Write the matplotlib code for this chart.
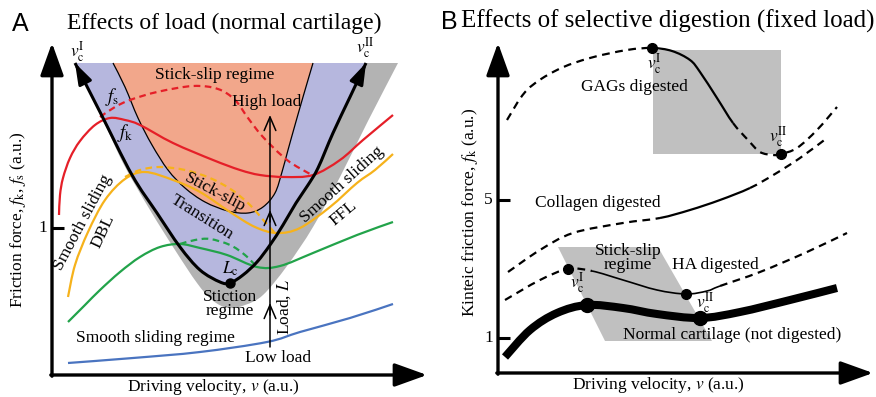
import numpy as np
import matplotlib.pyplot as plt
from matplotlib.path import Path
from matplotlib.patches import PathPatch, Polygon, Rectangle

plt.rcParams["font.family"] = ["Liberation Serif", "DejaVu Serif"]
plt.rcParams["mathtext.fontset"] = "stix"

# ---- panel A: load dependence (v, f in a.u.) ----
# outer (grey) boundary of the transition zone
grey_edge_v = [23, 48, 71, 98, 123, 145, 160, 176, 193, 211, 235, 261, 288, 316, 346]
grey_edge_f = [312, 262, 212, 165, 125, 92, 75, 67, 70, 80, 109, 148, 198, 254, 312]
# critical velocities v_c^I / v_c^II versus load (black U curve)
vc_v = [23, 48, 80, 105, 128, 148, 168, 178, 191, 205, 218, 231, 244, 256, 266, 281, 298, 314]
vc_f = [312, 263, 200, 162, 128, 105, 93, 92, 100, 113, 130, 150, 172, 190, 207, 242, 278, 312]
lc_point = (178, 92)
# stick-slip regime boundary
stick_v = [61, 73, 86, 100, 116, 133, 153, 176, 196, 211, 223, 230, 236, 243, 251, 261]
stick_f = [312, 288, 257, 230, 205, 187, 173, 164, 162, 168, 182, 203, 225, 250, 278, 312]

# high load
high_fk_v = [7, 8, 11, 18, 28, 43, 58, 73, 88, 121, 161, 188, 208, 233, 261, 288, 311, 341]
high_fk_f = [160, 180, 197, 217, 234, 250, 257, 255, 250, 232, 215, 205, 200, 198, 200, 215, 235, 260]
high_fs_v = [48, 63, 78, 105, 141, 166, 183, 196, 211, 235, 258]
high_fs_f = [258, 268, 275, 283, 289, 286, 275, 257, 238, 215, 201]
# intermediate load
mid_fk_v = [16, 23, 36, 53, 73, 93, 121, 148, 178, 203, 225, 248, 278, 305, 323, 341]
mid_fk_f = [78, 110, 143, 175, 196, 203, 195, 183, 163, 148, 142, 147, 168, 192, 205, 221]
mid_fs_v = [73, 88, 108, 133, 158, 180, 198, 213, 223]
mid_fs_f = [198, 205, 208, 205, 197, 185, 170, 153, 142]
# lower-intermediate load
low_fk_v = [16, 33, 48, 68, 88, 108, 128, 148, 175, 205, 228, 261, 305, 341]
low_fk_f = [53, 70, 85, 103, 118, 128, 131, 127, 120, 108, 109, 122, 140, 153]
low_fs_v = [128, 143, 158, 178, 193, 205]
low_fs_f = [131, 135, 136, 130, 120, 108]
# low load
lowest_fk_v = [16, 81, 148, 215, 248, 298, 341]
lowest_fk_f = [12, 17, 23, 33, 43, 57, 71]

load_v = 218
load_f = [28, 260]
load_marks = [72, 165]

# ---- panel B: selective digestion ----
gag_v = [9, 29, 59, 92, 129, 154, 174, 192, 202, 219, 235, 250, 262, 275, 283, 299, 319, 339]
gag_f = [253, 283, 303, 315, 323, 325, 322, 313, 301, 275, 250, 233, 221, 218, 219, 225, 243, 266]
gag_solid = (5, 10)
gag_crit = (5, 14)
gag_box = (155, 219, 128, 104)

col_v = [10, 42, 75, 125, 162, 192, 222, 252, 277, 302, 329]
col_f = [101, 123, 140, 150, 155, 163, 173, 185, 199, 215, 235]
col_solid = (4, 7)

ha_v = [7, 42, 70, 94, 125, 159, 188, 209, 222, 262, 309, 349]
ha_f = [73, 93, 104, 102, 93, 83, 79, 82, 87, 101, 121, 140]
ha_solid = (3, 8)
ha_crit = (2, 6)

norm_v = [7, 32, 59, 89, 125, 159, 202, 242, 292, 339]
norm_f = [16, 43, 60, 68, 65, 59, 55, 61, 73, 85]
norm_crit = (3, 6)
stick_zone_v = [60, 160, 214, 107]
stick_zone_f = [126, 126, 32, 32]

tick_a = [("1", 147)]
tick_b = [("5", 173), ("1", 35)]


def bezier(v, f):
    """Catmull-Rom through the control points, as cubic Bezier segments."""
    pts = np.column_stack([v, f]).astype(float)
    ext = np.vstack([pts[0], pts, pts[-1]])
    segs = []
    for i in range(len(pts) - 1):
        p0, p1, p2, p3 = ext[i], ext[i + 1], ext[i + 2], ext[i + 3]
        segs.append((p1 + (p2 - p0) / 6, p2 - (p3 - p1) / 6, p2))
    return pts, segs


def sub_path(v, f, i0=0, i1=None, close=False):
    pts, segs = bezier(v, f)
    i1 = len(pts) - 1 if i1 is None else i1
    verts, codes = [pts[i0]], [Path.MOVETO]
    for c1, c2, p in segs[i0:i1]:
        verts += [c1, c2, p]
        codes += [Path.CURVE4] * 3
    if close:
        verts.append(pts[i0])
        codes.append(Path.CLOSEPOLY)
    return Path(verts, codes)


def curve(ax, v, f, color="k", lw=1.5, ls="-", z=4, i0=0, i1=None):
    ax.add_patch(PathPatch(sub_path(v, f, i0, i1), fill=False, ec=color, lw=lw,
                           ls=ls, zorder=z, capstyle="butt", joinstyle="round"))


def split_curve(ax, v, f, solid, lw_solid, lw_dash, ls):
    a, b = solid
    if a > 0:
        curve(ax, v, f, lw=lw_dash, ls=ls, i0=0, i1=a)
    curve(ax, v, f, lw=lw_solid, i0=a, i1=b)
    if b < len(v) - 1:
        curve(ax, v, f, lw=lw_dash, ls=ls, i0=b)


def region(ax, v, f, color, z=1):
    ax.add_patch(PathPatch(sub_path(v, f, close=True), fc=color, ec="none", zorder=z))


def axes_arrows(ax, v_tip, f_tip):
    style = "-|>,head_length=1.0,head_width=0.36"
    kw = dict(arrowstyle=style, lw=2.4, color="k", shrinkA=0, shrinkB=0, mutation_scale=20)
    ax.annotate("", xy=(0, f_tip), xytext=(0, -1.2), arrowprops=kw, zorder=8)
    ax.annotate("", xy=(v_tip, 0), xytext=(-1.2, 0), arrowprops=kw, zorder=8)


fig = plt.figure(figsize=(8.76, 3.97), dpi=100)
ax_a = fig.add_axes([0, 0, 438 / 876, 1])
ax_b = fig.add_axes([438 / 876, 0, 438 / 876, 1])
ax_a.set_xlim(-52, 386)
ax_a.set_ylim(-22, 375)
ax_b.set_xlim(-60, 378)
ax_b.set_ylim(-24, 373)
for ax in (ax_a, ax_b):
    ax.axis("off")

TXT = 12.5
RED, ORANGE, GREEN, BLUE = "#E51F28", "#F6B21B", "#22A34A", "#4A74C0"
DASH_A = (0, (3, 2))

# ---------------- panel A ----------------
ax = ax_a
region(ax, grey_edge_v, grey_edge_f, "#B3B3B3", z=1)
region(ax, vc_v, vc_f, "#B6B7DE", z=1.1)
region(ax, stick_v, stick_f, "#F2A78B", z=1.2)
curve(ax, stick_v, stick_f, lw=0.9, z=1.3)

curve(ax, lowest_fk_v, lowest_fk_f, BLUE, lw=1.6)
curve(ax, low_fk_v, low_fk_f, GREEN, lw=1.6)
curve(ax, low_fs_v, low_fs_f, GREEN, lw=1.6, ls=DASH_A)
curve(ax, mid_fk_v, mid_fk_f, ORANGE, lw=1.6)
curve(ax, mid_fs_v, mid_fs_f, ORANGE, lw=1.6, ls=DASH_A)
curve(ax, high_fk_v, high_fk_f, RED, lw=1.6)
curve(ax, high_fs_v, high_fs_f, RED, lw=1.6, ls=DASH_A)

curve(ax, vc_v, vc_f, lw=2.2, z=5)
tip_kw = dict(arrowstyle="-|>,head_length=0.9,head_width=0.3", lw=2.2, color="k",
              shrinkA=0, shrinkB=0, mutation_scale=14)
for a, b in ((0, 1), (-1, -2)):
    ax.annotate("", xy=(vc_v[a], vc_f[a]),
                xytext=(vc_v[a] + (vc_v[b] - vc_v[a]) * 0.3, vc_f[a] + (vc_f[b] - vc_f[a]) * 0.3),
                arrowprops=tip_kw, zorder=5)
ax.plot(*lc_point, "o", color="k", ms=6.5, zorder=6)

# load arrow
open_kw = dict(arrowstyle="->,head_length=0.7,head_width=0.3", lw=1.1, color="k",
               shrinkA=0, shrinkB=0, mutation_scale=14)
ax.annotate("", xy=(load_v, load_f[1]), xytext=(load_v, load_f[0]), arrowprops=open_kw, zorder=7)
for m in load_marks:
    ax.annotate("", xy=(load_v, m), xytext=(load_v, m - 12), arrowprops=open_kw, zorder=7)

axes_arrows(ax, 375, 332)
for lab, f in tick_a:
    ax.plot([0, 12], [f, f], color="k", lw=2.2, solid_capstyle="butt", zorder=8)
    ax.text(-5, f, lab, ha="right", va="center", fontsize=TXT)

ax.text(-32, 351, "A", family=["Liberation Sans"], fontsize=18, ha="center", va="center")
ax.text(172, 352, "Effects of load (normal cartilage)", fontsize=17, ha="center", va="center")
ax.text(-34, 155, r"Friction force, $f_\mathrm{k}$, $f_\mathrm{s}$ (a.u.)", fontsize=TXT,
        rotation=90, ha="center", va="center")
ax.text(161, -12, r"Driving velocity, $v$ (a.u.)", fontsize=TXT, ha="center", va="center")

ax.text(163, 300, "Stick-slip regime", fontsize=TXT, ha="center", va="center", zorder=9)
ax.text(215, 273, "High load", fontsize=TXT, ha="center", va="center", zorder=9)
ax.text(60, 278, r"$f_\mathrm{s}$", fontsize=TXT + 1, ha="center", va="center", zorder=9)
ax.text(73, 242, r"$f_\mathrm{k}$", fontsize=TXT + 1, ha="center", va="center", zorder=9)
ax.text(25, 323, r"$v_\mathrm{c}^\mathrm{I}$", fontsize=TXT, ha="center", va="center", zorder=9)
ax.text(313, 327, r"$v_\mathrm{c}^\mathrm{II}$", fontsize=TXT, ha="center", va="center", zorder=9)
ax.text(31, 153, "Smooth sliding", fontsize=TXT, rotation=62, ha="center", va="center", zorder=9)
ax.text(51, 143, "DBL", fontsize=TXT, rotation=65, ha="center", va="center", zorder=9)
ax.text(163, 182, "Stick-slip", fontsize=TXT, rotation=-28, ha="center", va="center", zorder=9)
ax.text(150, 158, "Transition", fontsize=TXT, rotation=-32, ha="center", va="center", zorder=9)
ax.text(178, 106, r"$L_\mathrm{c}$", fontsize=TXT, ha="center", va="center", zorder=9)
ax.text(178, 71, "Stiction\nregime", fontsize=TXT, ha="center", va="center",
        linespacing=0.85, zorder=9)
ax.text(232, 68, r"Load, $L$", fontsize=TXT, rotation=90, ha="center", va="center", zorder=9)
ax.text(226, 17, "Low load", fontsize=TXT, ha="center", va="center", zorder=9)
ax.text(103, 37, "Smooth sliding regime", fontsize=TXT, ha="center", va="center", zorder=9)
ax.text(290, 190, "Smooth sliding", fontsize=TXT, rotation=42, ha="center", va="center", zorder=9)
ax.text(291, 162, "FFL", fontsize=TXT, rotation=40, ha="center", va="center", zorder=9)

# ---------------- panel B ----------------
ax = ax_b
ax.add_patch(Rectangle(gag_box[:2], gag_box[2], gag_box[3], fc="#C0C0C0", ec="none", zorder=1))
ax.add_patch(Polygon(np.column_stack([stick_zone_v, stick_zone_f]), fc="#C0C0C0", ec="none", zorder=1))

DASH_B = (0, (3.5, 2.5))
split_curve(ax, gag_v, gag_f, gag_solid, 1.6, 1.6, DASH_B)
split_curve(ax, col_v, col_f, col_solid, 1.6, 1.6, DASH_B)
split_curve(ax, ha_v, ha_f, ha_solid, 1.2, 1.6, DASH_B)
curve(ax, norm_v, norm_f, lw=5.8)

for v, f, idx, ms in ((gag_v, gag_f, gag_crit, 7), (ha_v, ha_f, ha_crit, 7),
                      (norm_v, norm_f, norm_crit, 10)):
    ax.plot([v[i] for i in idx], [f[i] for i in idx], "o", color="k", ms=ms, zorder=6)

axes_arrows(ax, 375, 330)
for lab, f in tick_b:
    ax.plot([0, 12], [f, f], color="k", lw=2.2, solid_capstyle="butt", zorder=8)
    ax.text(-5, f, lab, ha="right", va="center", fontsize=TXT)

ax.text(-49, 351, "B", family=["Liberation Sans"], fontsize=18, ha="center", va="center")
ax.text(170, 352, "Effects of selective digestion (fixed load)", fontsize=18,
        ha="center", va="center")
ax.text(-28, 161, r"Kinteic friction force, $f_\mathrm{k}$ (a.u.)", fontsize=TXT,
        rotation=90, ha="center", va="center")
ax.text(160, -12, r"Driving velocity, $v$ (a.u.)", fontsize=TXT, ha="center", va="center")

ax.text(136, 286, "GAGs digested", fontsize=TXT, ha="center", va="center", zorder=9)
ax.text(156, 309, r"$v_\mathrm{c}^\mathrm{I}$", fontsize=TXT, ha="center", va="center", zorder=9)
ax.text(280, 236, r"$v_\mathrm{c}^\mathrm{II}$", fontsize=TXT, ha="center", va="center", zorder=9)
ax.text(100, 170, "Collagen digested", fontsize=TXT, ha="center", va="center", zorder=9)
ax.text(130, 115, "Stick-slip\nregime", fontsize=TXT, ha="center", va="center",
        linespacing=0.8, zorder=9)
ax.text(217, 108, "HA digested", fontsize=TXT, ha="center", va="center", zorder=9)
ax.text(79, 90, r"$v_\mathrm{c}^\mathrm{I}$", fontsize=TXT, ha="center", va="center", zorder=9)
ax.text(207, 70, r"$v_\mathrm{c}^\mathrm{II}$", fontsize=TXT, ha="center", va="center", zorder=9)
ax.text(234, 38, "Normal cartilage (not digested)", fontsize=TXT, ha="center", va="center", zorder=9)

fig.savefig("out.png", dpi=100)
